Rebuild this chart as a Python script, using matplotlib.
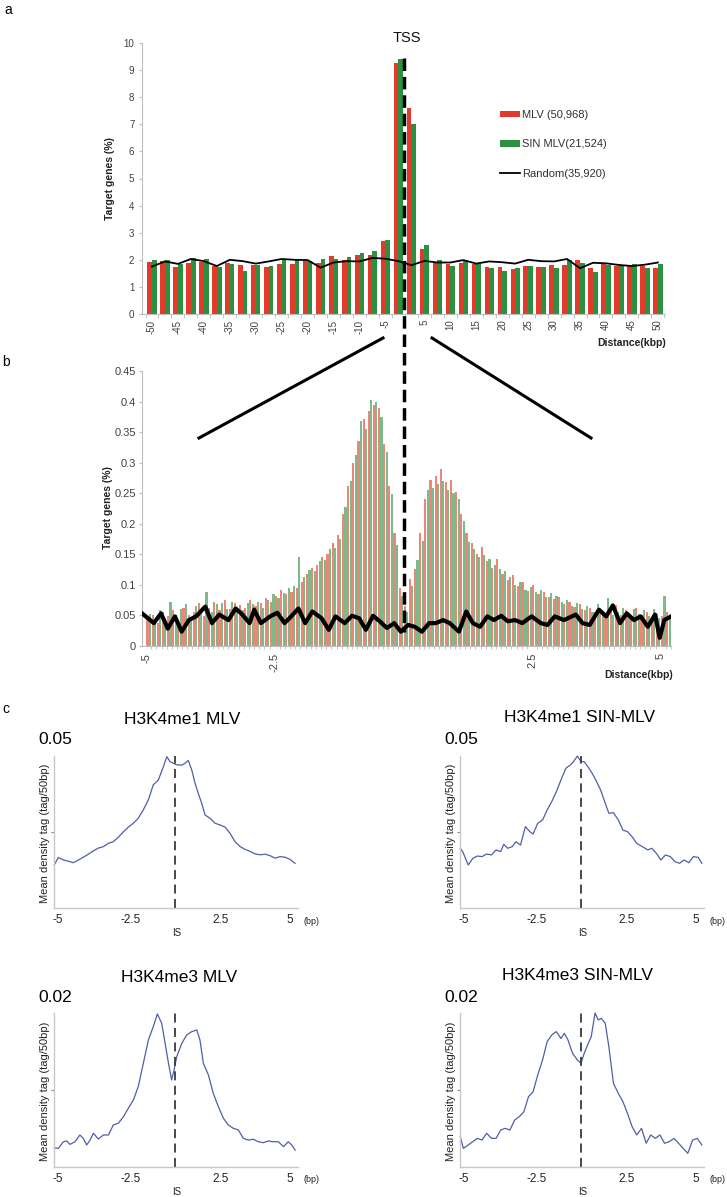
import numpy as np
import matplotlib
matplotlib.use('Agg')
import matplotlib.pyplot as plt
from matplotlib.lines import Line2D
from matplotlib.patches import Patch
from matplotlib import font_manager as fm

_names = {f.name for f in fm.fontManager.ttflist}
NARROW = 'Liberation Sans Narrow' if 'Liberation Sans Narrow' in _names else 'Liberation Sans'
plt.rcParams['font.family'] = ['Liberation Sans', 'DejaVu Sans']

# ---------------- data: panel a ----------------
a_bins = [-50, -47.5, -45, -42.5, -40, -37.5, -35, -32.5, -30, -27.5,
          -25, -22.5, -20, -17.5, -15, -12.5, -10, -7.5, -5, -2.5,
          2.5, 5, 7.5, 10, 12.5, 15, 17.5, 20, 22.5, 25,
          27.5, 30, 32.5, 35, 37.5, 40, 42.5, 45, 47.5, 50]
a_mlv = [1.91, 1.96, 1.72, 1.87, 1.93, 1.78, 1.88, 1.82, 1.82, 1.72,
         1.83, 1.84, 1.95, 1.88, 2.14, 2.01, 2.18, 2.16, 2.68, 9.28,
         7.60, 2.40, 1.90, 1.84, 1.90, 1.84, 1.74, 1.74, 1.65, 1.77,
         1.72, 1.80, 1.80, 1.99, 1.69, 1.85, 1.77, 1.82, 1.77, 1.69]
a_sin = [1.98, 2.00, 1.85, 2.06, 2.04, 1.75, 1.85, 1.57, 1.82, 1.78,
         2.02, 2.04, 1.95, 2.04, 2.02, 2.12, 2.24, 2.32, 2.72, 9.40,
         7.00, 2.53, 2.00, 1.77, 1.96, 1.85, 1.71, 1.60, 1.71, 1.77,
         1.72, 1.71, 2.00, 1.90, 1.56, 1.82, 1.81, 1.84, 1.69, 1.86]
a_rand = [1.75, 1.94, 1.85, 2.03, 1.95, 1.77, 2.00, 1.95, 1.86, 1.94,
          2.03, 2.00, 1.99, 1.71, 1.90, 1.95, 1.94, 2.07, 2.04, 1.95,
          1.80, 1.96, 1.90, 1.90, 1.99, 1.86, 1.94, 1.91, 1.86, 2.00,
          1.95, 1.94, 2.03, 1.69, 1.89, 1.87, 1.81, 1.77, 1.82, 1.90]
a_tick_labels = ['-50', '-45', '-40', '-35', '-30', '-25', '-20', '-15', '-10', '-5',
                 '5', '10', '15', '20', '25', '30', '35', '40', '45', '50']
a_legend = ['MLV (50,968)', 'SIN MLV(21,524)', 'Random(35,920)']

# ---------------- data: panel b (100 bp bins, -4.95 .. 5.15 kbp) ----------------
b_mlv = [0.045, 0.050, 0.038, 0.055, 0.048, 0.058, 0.042, 0.062, 0.050, 0.055,
         0.070, 0.048, 0.062, 0.072, 0.058, 0.075, 0.060, 0.070, 0.066, 0.062,
         0.075, 0.065, 0.070, 0.078, 0.072, 0.082, 0.092, 0.085, 0.088, 0.095,
         0.105, 0.118, 0.128, 0.132, 0.145, 0.150, 0.168, 0.182, 0.215, 0.262,
         0.300, 0.335, 0.372, 0.385, 0.395, 0.390, 0.330, 0.262, 0.185, 0.095,
         0.065, 0.110, 0.125, 0.185, 0.240, 0.272, 0.278, 0.290, 0.268, 0.272,
         0.252, 0.215, 0.185, 0.168, 0.150, 0.162, 0.138, 0.128, 0.142, 0.118,
         0.108, 0.115, 0.098, 0.105, 0.090, 0.100, 0.085, 0.088, 0.080, 0.076,
         0.080, 0.068, 0.072, 0.064, 0.068, 0.058, 0.062, 0.055, 0.060, 0.052,
         0.058, 0.066, 0.050, 0.058, 0.048, 0.062, 0.050, 0.055, 0.045, 0.052,
         0.048, 0.055]
b_sin = [0.052, 0.040, 0.058, 0.045, 0.072, 0.050, 0.060, 0.068, 0.045, 0.065,
         0.058, 0.088, 0.055, 0.068, 0.070, 0.060, 0.072, 0.062, 0.058, 0.070,
         0.068, 0.072, 0.062, 0.075, 0.085, 0.078, 0.086, 0.095, 0.098, 0.146,
         0.112, 0.124, 0.122, 0.138, 0.140, 0.158, 0.160, 0.175, 0.228, 0.270,
         0.312, 0.368, 0.355, 0.402, 0.400, 0.375, 0.318, 0.248, 0.165, 0.082,
         0.055, 0.098, 0.140, 0.172, 0.255, 0.258, 0.265, 0.270, 0.255, 0.250,
         0.240, 0.205, 0.170, 0.158, 0.145, 0.148, 0.142, 0.132, 0.125, 0.122,
         0.112, 0.100, 0.104, 0.092, 0.096, 0.088, 0.092, 0.080, 0.086, 0.082,
         0.072, 0.075, 0.065, 0.070, 0.060, 0.065, 0.055, 0.068, 0.052, 0.078,
         0.050, 0.055, 0.062, 0.048, 0.060, 0.052, 0.058, 0.048, 0.060, 0.046,
         0.082, 0.050]
b_rand_kbp = [-5.08, -4.85, -4.71, -4.58, -4.44, -4.31, -4.17, -4.03, -3.85, -3.72,
              -3.58, -3.40, -3.26, -3.13, -2.99, -2.90, -2.77, -2.59, -2.45, -2.31,
              -2.18, -2.04, -1.91, -1.77, -1.59, -1.45, -1.32, -1.14, -1.00, -0.86,
              -0.73, -0.59, -0.46, -0.32, -0.18, -0.05, 0.09, 0.22, 0.36, 0.50,
              0.63, 0.77, 0.90, 1.08, 1.22, 1.35, 1.49, 1.63, 1.76, 1.90,
              2.03, 2.17, 2.31, 2.49, 2.67, 2.80, 2.94, 3.12, 3.35, 3.48,
              3.62, 3.80, 3.94, 4.07, 4.21, 4.34, 4.48, 4.61, 4.75, 4.89,
              4.98, 5.07, 5.20]
b_rand = [0.053, 0.037, 0.053, 0.028, 0.048, 0.023, 0.042, 0.048, 0.064, 0.037,
          0.051, 0.042, 0.061, 0.051, 0.037, 0.059, 0.037, 0.048, 0.054, 0.037,
          0.048, 0.061, 0.037, 0.056, 0.045, 0.026, 0.048, 0.037, 0.049, 0.045,
          0.026, 0.049, 0.040, 0.029, 0.037, 0.023, 0.034, 0.031, 0.023, 0.037,
          0.037, 0.042, 0.037, 0.023, 0.056, 0.037, 0.031, 0.048, 0.042, 0.049,
          0.040, 0.042, 0.037, 0.048, 0.037, 0.034, 0.048, 0.042, 0.051, 0.037,
          0.034, 0.059, 0.048, 0.066, 0.037, 0.053, 0.042, 0.048, 0.031, 0.051,
          0.013, 0.042, 0.048]
b_yticks = [0, 0.05, 0.1, 0.15, 0.2, 0.25, 0.3, 0.35, 0.4, 0.45]
b_ytick_labels = ['0', '0.05', '0.1', '0.15', '0.2', '0.25', '0.3', '0.35', '0.4', '0.45']
b_xtick_labels = ['-5', '-2.5', '2.5', '5']

# ---------------- data: panel c ----------------
c_titles = ['H3K4me1 MLV', 'H3K4me1 SIN-MLV', 'H3K4me3 MLV', 'H3K4me3 SIN-MLV']
c_max_labels = ['0.05', '0.05', '0.02', '0.02']
c_xtick_labels = ['-5', '-2.5', '2.5', '5']

tl_x = [-4.99, -4.82, -4.61, -4.41, -4.20, -3.99, -3.79, -3.58, -3.37, -3.17,
        -2.96, -2.75, -2.55, -2.34, -2.13, -1.93, -1.72, -1.52, -1.31, -1.10,
        -0.90, -0.69, -0.48, -0.34, -0.21, -0.07, 0.07, 0.28, 0.41, 0.55,
        0.69, 0.83, 0.96, 1.10, 1.24, 1.45, 1.65, 1.86, 2.07, 2.27,
        2.48, 2.69, 2.89, 3.10, 3.31, 3.51, 3.72, 3.93, 4.13, 4.34,
        4.55, 4.75, 4.96]
tl_y = [0.0142, 0.0166, 0.0158, 0.0154, 0.0149, 0.0158, 0.0167, 0.0177, 0.0188, 0.0197,
        0.0202, 0.0213, 0.0218, 0.0233, 0.0251, 0.0266, 0.0279, 0.0295, 0.0323, 0.0356,
        0.0405, 0.0421, 0.0465, 0.0498, 0.0482, 0.0476, 0.0471, 0.0470, 0.0476, 0.0485,
        0.0454, 0.0410, 0.0377, 0.0345, 0.0306, 0.0295, 0.0279, 0.0273, 0.0266, 0.0246,
        0.0218, 0.0202, 0.0193, 0.0186, 0.0178, 0.0175, 0.0177, 0.0172, 0.0164, 0.0169,
        0.0167, 0.0160, 0.0147]

tr_x = [-4.99, -4.89, -4.66, -4.47, -4.28, -4.09, -3.90, -3.70, -3.51, -3.32,
        -3.19, -3.03, -2.84, -2.69, -2.50, -2.30, -2.11, -1.98, -1.79, -1.59,
        -1.40, -1.21, -1.02, -0.83, -0.63, -0.44, -0.31, -0.15, 0.00, 0.13,
        0.33, 0.46, 0.61, 0.81, 1.00, 1.15, 1.34, 1.54, 1.73, 1.92,
        2.11, 2.30, 2.53, 2.76, 2.92, 3.11, 3.30, 3.49, 3.69, 3.88,
        4.07, 4.26, 4.45, 4.64, 4.84, 4.99]
tr_y = [0.01965, 0.01855, 0.01415, 0.01635, 0.0171, 0.0169, 0.01775, 0.01745, 0.0191, 0.01855,
        0.02095, 0.01965, 0.0202, 0.0218, 0.0207, 0.02675, 0.0251, 0.02435, 0.02785, 0.02895,
        0.03225, 0.035, 0.03825, 0.0421, 0.04595, 0.04705, 0.04815, 0.05, 0.04815, 0.04815,
        0.04595, 0.0443, 0.0421, 0.0388, 0.03445, 0.03115, 0.03135, 0.02895, 0.02565, 0.0251,
        0.02345, 0.02125, 0.0202, 0.0191, 0.01965, 0.018, 0.0158, 0.01745, 0.0169, 0.01525,
        0.0147, 0.0158, 0.0149, 0.0169, 0.01665, 0.0147]

bl_x = [-4.99, -4.82, -4.61, -4.48, -4.34, -4.13, -3.93, -3.79, -3.65, -3.51,
        -3.37, -3.17, -2.96, -2.75, -2.55, -2.34, -2.13, -1.93, -1.72, -1.52,
        -1.31, -1.10, -0.90, -0.73, -0.55, -0.41, -0.27, -0.14, -0.04, 0.07,
        0.28, 0.48, 0.69, 0.90, 1.03, 1.17, 1.38, 1.58, 1.79, 2.00,
        2.20, 2.41, 2.62, 2.82, 3.03, 3.24, 3.44, 3.65, 3.85, 4.06,
        4.27, 4.48, 4.68, 4.82, 4.96]
bl_y = [0.0025, 0.00242, 0.00328, 0.00338, 0.00294, 0.00328, 0.00416, 0.00372, 0.00286, 0.0035,
        0.00438, 0.00364, 0.00416, 0.00416, 0.00546, 0.00568, 0.00654, 0.00762, 0.0087, 0.01044,
        0.01346, 0.0165, 0.01822, 0.01988, 0.01866, 0.01606, 0.01346, 0.0113, 0.0126, 0.01432,
        0.01606, 0.01714, 0.01758, 0.0178, 0.0165, 0.01346, 0.01194, 0.00956, 0.00784, 0.00632,
        0.00546, 0.00502, 0.0048, 0.00372, 0.0035, 0.0036, 0.00328, 0.00316, 0.00338, 0.00328,
        0.00328, 0.00264, 0.00328, 0.00286, 0.0022]

br_x = [-4.99, -4.86, -4.66, -4.47, -4.28, -4.09, -3.90, -3.70, -3.51, -3.32,
        -3.13, -2.94, -2.74, -2.55, -2.36, -2.17, -1.98, -1.79, -1.59, -1.40,
        -1.21, -1.02, -0.83, -0.69, -0.54, -0.35, -0.15, 0.00, 0.13, 0.27,
        0.42, 0.58, 0.71, 0.84, 1.00, 1.15, 1.34, 1.54, 1.73, 1.92,
        2.11, 2.30, 2.50, 2.69, 2.88, 3.07, 3.26, 3.45, 3.65, 3.84,
        4.03, 4.22, 4.41, 4.61, 4.80, 4.99]
br_y = [0.00394, 0.00242, 0.00286, 0.0033, 0.00372, 0.0035, 0.00438, 0.00372, 0.00372, 0.0048,
        0.00502, 0.0048, 0.0061, 0.00654, 0.00718, 0.00914, 0.00978, 0.01194, 0.0139, 0.01628,
        0.01714, 0.01758, 0.0167, 0.01736, 0.0165, 0.01476, 0.0139, 0.01346, 0.01476, 0.01584,
        0.01692, 0.02, 0.0191, 0.0193, 0.01866, 0.01562, 0.01086, 0.00956, 0.00848, 0.00696,
        0.00524, 0.00416, 0.00502, 0.00308, 0.00416, 0.00372, 0.00416, 0.00308, 0.0033, 0.00372,
        0.00308, 0.00242, 0.00178, 0.0035, 0.00372, 0.00286]

# ---------------- styling ----------------
RED = '#e23b2b'
GREEN = '#2b9140'
AXIS_GRAY = '#bdbdbd'
TEXT_GRAY = '#404040'
CURVE = '#4f5ea8'

W, H = 727, 1197
fig = plt.figure(figsize=(W / 100, H / 100), dpi=100)


def axes_px(l, t, r, b):
    return fig.add_axes([l / W, 1 - b / H, (r - l) / W, (b - t) / H])


def fpt(px, py):
    return (px / W, 1 - py / H)


# ================= panel a =================
ax = axes_px(142, 43, 665, 314)
idx = np.arange(len(a_bins))
bw = 0.36
ax.bar(idx - bw / 2, a_mlv, width=bw, color=RED, linewidth=0, zorder=2)
ax.bar(idx + bw / 2, a_sin, width=bw, color=GREEN, linewidth=0, zorder=2)
ax.plot(idx, a_rand, color='black', lw=1.3, zorder=3)
ax.set_xlim(-0.77, 39.55)
ax.set_ylim(0, 10)
ax.set_yticks(range(0, 11))
ax.set_yticklabels([str(v) for v in range(0, 11)], fontsize=7, color=TEXT_GRAY)
lab_pos = [i for i, v in enumerate(a_bins) if float(v).is_integer() and int(v) % 5 == 0]
ax.set_xticks(lab_pos)
ax.set_xticklabels(a_tick_labels, rotation=90, fontsize=7, color=TEXT_GRAY)
ax.set_xticks(np.arange(-0.5, len(a_bins), 1), minor=True)
ax.tick_params(axis='x', which='major', length=0, pad=4)
ax.tick_params(axis='x', which='minor', length=3, color=AXIS_GRAY)
ax.tick_params(axis='y', length=2.5, color=AXIS_GRAY, pad=3)
for s in ['top', 'right']:
    ax.spines[s].set_visible(False)
for s in ['left', 'bottom']:
    ax.spines[s].set_color(AXIS_GRAY)
ax.set_ylabel('Target genes (%)', fontsize=7.5, fontweight='bold', color='#222222', labelpad=6)
handles = [Patch(color=RED, linewidth=0), Patch(color=GREEN, linewidth=0),
           Line2D([0], [0], color='black', lw=1.3)]
leg = ax.legend(handles, a_legend, loc='upper left', bbox_to_anchor=fpt(500, 110),
                bbox_transform=fig.transFigure, frameon=False, fontsize=8,
                handlelength=1.8, handleheight=0.55, handletextpad=0.15,
                labelspacing=1.75, borderpad=0, borderaxespad=0)
for t in leg.get_texts():
    t.set_color('#303030')
fig.text(*fpt(632, 343), 'Distance(kbp)', fontsize=7.5, fontweight='bold',
         color='#222222', ha='center', va='center')
fig.text(*fpt(407, 38), 'TSS', fontsize=10.5, family=[NARROW, 'DejaVu Sans'],
         ha='center', va='center', color='#111111')
fig.text(*fpt(8, 10), 'a', fontsize=10, family=[NARROW, 'DejaVu Sans'],
         ha='center', va='center')

# ================= panel b =================
axb = axes_px(142, 371, 671, 645.7)
b_x = np.arange(len(b_mlv)) * 0.1 - 4.95
bwb = 0.042
axb.bar(b_x - 0.024, b_mlv, width=bwb, color=RED, alpha=0.62, linewidth=0, zorder=2)
axb.bar(b_x + 0.024, b_sin, width=bwb, color=GREEN, alpha=0.62, linewidth=0, zorder=2)
axb.plot(b_rand_kbp, b_rand, color='black', lw=3.0, zorder=3, solid_joinstyle='round')
axb.set_xlim(-5.08, 5.2)
axb.set_ylim(0, 0.45)
axb.set_yticks(b_yticks)
axb.set_yticklabels(b_ytick_labels, fontsize=8, color=TEXT_GRAY, family=[NARROW, 'DejaVu Sans'])
axb.set_xticks([-5, -2.5, 2.5, 5])
axb.set_xticklabels(b_xtick_labels, rotation=90, fontsize=8, color=TEXT_GRAY,
                    family=[NARROW, 'DejaVu Sans'])
axb.set_xticks(np.arange(len(b_mlv) + 1) * 0.1 - 5.0, minor=True)
axb.tick_params(axis='x', which='major', length=0, pad=5)
axb.tick_params(axis='x', which='minor', length=2.5, color=AXIS_GRAY, width=0.6)
axb.tick_params(axis='y', length=2.5, color=AXIS_GRAY, pad=2)
for s in ['top', 'right']:
    axb.spines[s].set_visible(False)
for s in ['left', 'bottom']:
    axb.spines[s].set_color(AXIS_GRAY)
fig.text(*fpt(108, 508), 'Target genes (%)', fontsize=7.5, fontweight='bold',
         color='#222222', rotation=90, ha='center', va='center')
fig.text(*fpt(639, 675), 'Distance(kbp)', fontsize=7.5, fontweight='bold',
         color='#222222', ha='center', va='center')
fig.text(*fpt(6, 362), 'b', fontsize=10, family=[NARROW, 'DejaVu Sans'],
         ha='center', va='center')

# connecting lines and TSS dashed line (figure decorations)
fig.add_artist(Line2D([199 / W, 383 / W], [1 - 438 / H, 1 - 338 / H],
                      transform=fig.transFigure, color='black', lw=2.2))
fig.add_artist(Line2D([432 / W, 591 / W], [1 - 338 / H, 1 - 438 / H],
                      transform=fig.transFigure, color='black', lw=2.2))
fig.add_artist(Line2D([404 / W, 404 / W], [1 - 58 / H, 1 - 632 / H],
                      transform=fig.transFigure, color='black', lw=2.5,
                      linestyle=(0, (3.6, 1.7)), zorder=10))

# ================= panel c =================
c_axes_px = [(54, 756, 298, 908), (460, 756, 704, 908),
             (54, 1013, 298, 1167), (460, 1013, 704, 1167)]
c_data = [(tl_x, tl_y), (tr_x, tr_y), (bl_x, bl_y), (br_x, br_y)]
c_ymax = [0.05, 0.05, 0.02, 0.02]
title_pos = [(182, 719), (580, 717), (179, 977), (578, 975)]
c_tick_pos = [-4.85, -1.85, 1.9, 4.75]
for k in range(4):
    l, t, r, b = c_axes_px[k]
    axc = axes_px(l, t, r, b)
    xs, ys = c_data[k]
    axc.plot(xs, ys, color=CURVE, lw=0.9, clip_on=False)
    axc.axvline(0, 0, 1, color='#3a3a3a', lw=1.3, linestyle=(0, (5, 3)))
    axc.set_xlim(-5.0, 5.08)
    axc.set_ylim(0, c_ymax[k])
    axc.set_yticks([c_ymax[k] / 2])
    axc.set_yticklabels([''])
    axc.tick_params(axis='y', length=2, color='#888888', width=0.8)
    axc.set_xticks(c_tick_pos)
    axc.set_xticklabels(c_xtick_labels, fontsize=8.5, color='#222222',
                        family=[NARROW, 'DejaVu Sans'])
    axc.tick_params(axis='x', length=0, pad=4)
    for s in ['top', 'right']:
        axc.spines[s].set_visible(False)
    for s in ['left', 'bottom']:
        axc.spines[s].set_color('#c8c8c8')
        axc.spines[s].set_linewidth(1.0)
    tx = axc.get_xaxis_transform()
    axc.annotate('(bp)', xy=(5.62, 0), xycoords=tx, xytext=(0, -13),
                 textcoords='offset pixels', fontsize=6.5, ha='center', va='center',
                 family=[NARROW, 'DejaVu Sans'], color='#222222')
    axc.annotate('IS', xy=(0.05, 0), xycoords=tx, xytext=(0, -25),
                 textcoords='offset pixels', fontsize=7, ha='center', va='center',
                 family=[NARROW, 'DejaVu Sans'], color='#222222')
    fig.text(*fpt(l - 16, t - 16), c_max_labels[k], fontsize=12.5, ha='left', va='center')
    fig.text(*fpt(*title_pos[k]), c_titles[k], fontsize=12.5, ha='center', va='center')
    fig.text(*fpt(l - 9, (t + b) / 2 + 1), 'Mean density tag (tag/50bp)', fontsize=8,
             rotation=90, ha='center', va='center', color='#222222')
fig.text(*fpt(6, 709), 'c', fontsize=10, family=[NARROW, 'DejaVu Sans'],
         ha='center', va='center')

fig.savefig('out.png', dpi=100)
